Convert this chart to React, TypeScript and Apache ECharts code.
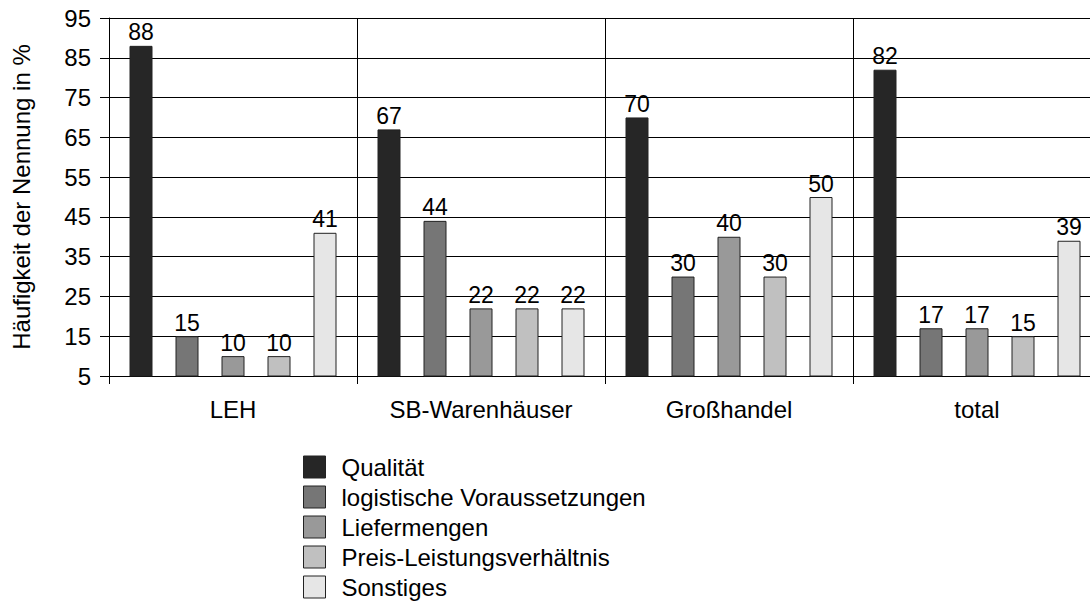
import React, { useEffect, useRef } from "react";
import * as echarts from "echarts";

const categories = ["LEH", "SB-Warenhäuser", "Großhandel", "total"];
const seriesNames = [
  "Qualität",
  "logistische Voraussetzungen",
  "Liefermengen",
  "Preis-Leistungsverhältnis",
  "Sonstiges",
];
const qualitaet = [88, 67, 70, 82];
const logistik = [15, 44, 30, 17];
const liefermengen = [10, 22, 40, 17];
const preisLeistung = [10, 22, 30, 15];
const sonstiges = [41, 22, 50, 39];
const seriesColors = ["#262626", "#767676", "#999999", "#c0c0c0", "#e6e6e6"];
const yTicks = { min: 5, max: 95, interval: 10 };

const FONT = "'Liberation Sans', Arial, sans-serif";

export default function App() {
  const ref = useRef<HTMLDivElement>(null);
  useEffect(() => {
    document.body.style.margin = "0";
    if (!ref.current) return;
    const chart = echarts.init(ref.current, undefined, { renderer: "svg" });
    const values = [qualitaet, logistik, liefermengen, preisLeistung, sonstiges];
    chart.setOption({
      animation: false,
      backgroundColor: "#ffffff",
      textStyle: { fontFamily: FONT },
      grid: { left: 109, top: 18, width: 992, height: 358, containLabel: false },
      legend: {
        orient: "vertical",
        left: 303,
        top: 455,
        height: 150,
        padding: 0,
        itemWidth: 22,
        itemHeight: 22,
        itemGap: 6,
        icon: "rect",
        data: seriesNames,
        textStyle: {
          fontSize: 24,
          color: "#000",
          fontFamily: FONT,
          padding: [0, 0, 0, 11],
        },
        itemStyle: { borderColor: "#222", borderWidth: 1 },
      },
      xAxis: {
        type: "category",
        data: categories,
        boundaryGap: true,
        axisLine: { show: true, lineStyle: { color: "#000", width: 1 } },
        axisTick: { show: true, interval: 0, length: 8, lineStyle: { color: "#000" } },
        splitLine: { show: true, interval: 0, lineStyle: { color: "#000", width: 1 } },
        axisLabel: { fontSize: 24, color: "#000", margin: 21, fontFamily: FONT, interval: 0 },
      },
      yAxis: {
        type: "value",
        min: yTicks.min,
        max: yTicks.max,
        interval: yTicks.interval,
        name: "Häufigkeit der Nennung in %",
        nameLocation: "middle",
        nameGap: 76,
        nameTextStyle: { fontSize: 24, color: "#000", fontFamily: FONT },
        axisLine: { show: true, lineStyle: { color: "#000", width: 1 } },
        axisTick: { show: true, length: 9, lineStyle: { color: "#000" } },
        splitLine: { show: true, lineStyle: { color: "#000", width: 1 } },
        axisLabel: { fontSize: 24, color: "#000", margin: 18, fontFamily: FONT },
      },
      series: seriesNames.map((name, i) => ({
        name,
        type: "bar",
        data: values[i],
        barWidth: 23,
        barGap: "100%",
        itemStyle: { color: seriesColors[i], borderColor: "#222", borderWidth: 1 },
        label: {
          show: true,
          position: "top",
          distance: 2,
          fontSize: 23,
          color: "#000",
          fontFamily: FONT,
        },
      })),
    });
    return () => chart.dispose();
  }, []);
  return (
    <div style={{ width: 1090, height: 601, overflow: "hidden", position: "relative" }}>
      <div ref={ref} style={{ width: 1101, height: 601 }} />
    </div>
  );
}
